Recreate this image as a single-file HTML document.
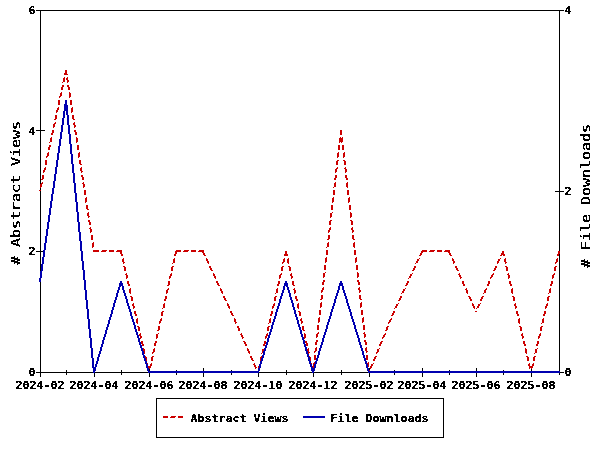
<!DOCTYPE html>
<html><head><meta charset="utf-8"><title>Statistics chart</title><style>
html,body{margin:0;padding:0;background:#fff;}
body{width:600px;height:450px;overflow:hidden;}
svg{display:block;}
.lb{font-family:"DejaVu Sans Mono","Liberation Mono",monospace;font-weight:bold;font-size:11px;fill:#000;}
.tt{font-family:"DejaVu Sans Mono","Liberation Mono",monospace;font-size:13px;fill:#000;}
</style></head><body>
<svg width="600" height="450" viewBox="0 0 600 450">
<defs>
<filter id="th2" color-interpolation-filters="sRGB"><feComponentTransfer><feFuncA type="discrete" tableValues="0 1 1 1"/></feComponentTransfer></filter>
<filter id="th" color-interpolation-filters="sRGB"><feComponentTransfer><feFuncA type="discrete" tableValues="0 1 1"/></feComponentTransfer></filter>
</defs>
<rect x="0" y="0" width="600" height="450" fill="#fff"/>
<g stroke="#000" stroke-width="1" shape-rendering="crispEdges" fill="none">
<rect x="40.5" y="10.5" width="519" height="362"/>
<line x1="40.5" y1="368" x2="40.5" y2="377"/>
<line x1="66.5" y1="370" x2="66.5" y2="375"/>
<line x1="94.5" y1="368" x2="94.5" y2="377"/>
<line x1="121.5" y1="370" x2="121.5" y2="375"/>
<line x1="149.5" y1="368" x2="149.5" y2="377"/>
<line x1="176.5" y1="370" x2="176.5" y2="375"/>
<line x1="203.5" y1="368" x2="203.5" y2="377"/>
<line x1="231.5" y1="370" x2="231.5" y2="375"/>
<line x1="258.5" y1="368" x2="258.5" y2="377"/>
<line x1="286.5" y1="370" x2="286.5" y2="375"/>
<line x1="313.5" y1="368" x2="313.5" y2="377"/>
<line x1="341.5" y1="370" x2="341.5" y2="375"/>
<line x1="369.5" y1="368" x2="369.5" y2="377"/>
<line x1="394.5" y1="370" x2="394.5" y2="375"/>
<line x1="422.5" y1="368" x2="422.5" y2="377"/>
<line x1="449.5" y1="370" x2="449.5" y2="375"/>
<line x1="476.5" y1="368" x2="476.5" y2="377"/>
<line x1="503.5" y1="370" x2="503.5" y2="375"/>
<line x1="531.5" y1="368" x2="531.5" y2="377"/>
<line x1="559.5" y1="370" x2="559.5" y2="375"/>
<line x1="36" y1="372.5" x2="45" y2="372.5"/>
<line x1="36" y1="251.5" x2="45" y2="251.5"/>
<line x1="36" y1="130.5" x2="45" y2="130.5"/>
<line x1="36" y1="10.5" x2="45" y2="10.5"/>
<line x1="555" y1="372.5" x2="564" y2="372.5"/>
<line x1="555" y1="191.5" x2="564" y2="191.5"/>
<line x1="555" y1="10.5" x2="564" y2="10.5"/>
</g>
<g shape-rendering="crispEdges" stroke="none">
<path fill="#cc0000" d="M65 70h2v3h-2zM64 73h3v1h-3zM64 74h4v1h-4zM64 77h1v1h-1zM67 77h1v1h-1zM63 78h2v4h-2zM66 78h2v2h-2zM67 80h2v2h-2zM62 82h1v1h-1zM67 82h1v1h-1zM62 85h2v2h-2zM67 85h2v2h-2zM61 87h2v3h-2zM68 87h2v3h-2zM61 92h1v1h-1zM69 92h1v1h-1zM60 93h2v3h-2zM69 93h2v4h-2zM59 96h2v1h-2zM59 97h1v1h-1zM69 97h1v1h-1zM58 100h2v5h-2zM70 100h2v5h-2zM58 107h1v1h-1zM72 107h1v1h-1zM57 108h2v2h-2zM71 108h2v4h-2zM56 110h2v2h-2zM56 112h1v1h-1zM71 112h1v1h-1zM55 115h2v4h-2zM72 115h2v4h-2zM54 119h2v1h-2zM73 119h2v1h-2zM55 122h1v1h-1zM74 122h1v1h-1zM54 123h2v1h-2zM73 123h2v2h-2zM53 124h2v3h-2zM74 125h2v2h-2zM53 127h1v1h-1zM74 127h1v1h-1zM52 130h2v3h-2zM74 130h2v2h-2zM340 130h2v5h-2zM75 132h2v3h-2zM51 133h2v2h-2zM51 137h1v1h-1zM76 137h1v1h-1zM340 137h1v1h-1zM342 137h1v1h-1zM50 138h2v4h-2zM76 138h2v4h-2zM339 138h4v4h-4zM49 142h1v1h-1zM76 142h1v1h-1zM339 142h1v1h-1zM341 142h1v1h-1zM49 145h2v2h-2zM77 145h2v5h-2zM338 145h2v5h-2zM342 145h2v5h-2zM48 147h2v3h-2zM48 152h1v1h-1zM79 152h1v1h-1zM338 152h1v1h-1zM344 152h1v1h-1zM47 153h2v3h-2zM78 153h2v4h-2zM337 153h2v4h-2zM343 153h2v4h-2zM46 156h2v1h-2zM46 157h1v1h-1zM78 157h1v1h-1zM337 157h1v1h-1zM343 157h1v1h-1zM45 160h2v5h-2zM79 160h2v4h-2zM337 160h2v1h-2zM343 160h2v1h-2zM336 161h2v4h-2zM344 161h2v4h-2zM80 164h2v1h-2zM45 167h1v1h-1zM81 167h1v1h-1zM337 167h1v1h-1zM345 167h1v1h-1zM44 168h2v2h-2zM80 168h2v3h-2zM336 168h2v1h-2zM344 168h2v1h-2zM335 169h2v3h-2zM345 169h2v3h-2zM43 170h2v2h-2zM81 171h2v1h-2zM43 172h1v1h-1zM81 172h1v1h-1zM335 172h1v1h-1zM345 172h1v1h-1zM42 175h2v4h-2zM81 175h2v2h-2zM335 175h2v3h-2zM345 175h2v3h-2zM82 177h2v3h-2zM334 178h2v2h-2zM346 178h2v2h-2zM41 179h2v1h-2zM42 182h1v1h-1zM83 182h1v1h-1zM335 182h1v1h-1zM347 182h1v1h-1zM41 183h2v1h-2zM82 183h2v1h-2zM334 183h2v4h-2zM346 183h2v4h-2zM40 184h2v3h-2zM83 184h2v3h-2zM40 187h1v1h-1zM83 187h1v1h-1zM333 187h1v1h-1zM347 187h1v1h-1zM39 190h2v1h-2zM84 190h2v5h-2zM333 190h2v5h-2zM347 190h2v5h-2zM86 197h1v1h-1zM333 197h1v1h-1zM349 197h1v1h-1zM85 198h2v4h-2zM332 198h2v4h-2zM348 198h2v4h-2zM85 202h1v1h-1zM332 202h1v1h-1zM348 202h1v1h-1zM86 205h2v4h-2zM331 205h2v5h-2zM349 205h2v5h-2zM87 209h2v1h-2zM88 212h1v1h-1zM332 212h1v1h-1zM350 212h1v1h-1zM87 213h2v3h-2zM330 213h2v4h-2zM350 213h2v4h-2zM88 216h2v1h-2zM88 217h1v1h-1zM330 217h1v1h-1zM350 217h1v1h-1zM88 220h2v2h-2zM330 220h2v1h-2zM350 220h2v1h-2zM329 221h2v4h-2zM351 221h2v4h-2zM89 222h2v3h-2zM90 227h1v1h-1zM330 227h1v1h-1zM352 227h1v1h-1zM89 228h2v1h-2zM329 228h2v2h-2zM351 228h2v2h-2zM90 229h2v3h-2zM328 230h2v2h-2zM352 230h2v2h-2zM90 232h1v1h-1zM328 232h1v1h-1zM352 232h1v1h-1zM91 235h2v5h-2zM328 235h2v4h-2zM352 235h2v4h-2zM327 239h2v1h-2zM353 239h2v1h-2zM93 242h1v1h-1zM328 242h1v1h-1zM354 242h1v1h-1zM92 243h2v4h-2zM327 243h2v4h-2zM353 243h2v4h-2zM92 247h1v1h-1zM326 247h1v1h-1zM354 247h1v1h-1zM93 250h6v2h-6zM102 250h5v1h-5zM109 250h5v2h-5zM117 250h5v1h-5zM176 250h5v1h-5zM184 250h5v1h-5zM191 250h5v2h-5zM199 250h5v1h-5zM326 250h2v5h-2zM354 250h2v5h-2zM422 250h5v1h-5zM430 250h5v1h-5zM437 250h5v2h-5zM445 250h5v1h-5zM101 251h5v1h-5zM116 251h6v1h-6zM175 251h6v1h-6zM183 251h5v1h-5zM198 251h6v1h-6zM285 251h2v3h-2zM421 251h6v1h-6zM429 251h5v1h-5zM444 251h6v1h-6zM502 251h2v2h-2zM558 251h2v3h-2zM120 252h2v2h-2zM175 252h2v2h-2zM202 252h2v1h-2zM421 252h2v1h-2zM448 252h2v1h-2zM203 253h2v2h-2zM420 253h2v2h-2zM449 253h2v2h-2zM501 253h3v1h-3zM121 254h2v2h-2zM174 254h2v2h-2zM284 254h4v2h-4zM501 254h4v1h-4zM557 254h2v2h-2zM204 255h2v1h-2zM419 255h2v1h-2zM450 255h2v1h-2zM500 255h2v1h-2zM503 255h2v1h-2zM326 257h1v1h-1zM356 257h1v1h-1zM123 258h1v1h-1zM174 258h1v1h-1zM206 258h1v1h-1zM284 258h1v1h-1zM288 258h1v1h-1zM325 258h2v4h-2zM355 258h2v4h-2zM419 258h1v1h-1zM452 258h1v1h-1zM500 258h1v1h-1zM505 258h1v1h-1zM557 258h1v1h-1zM122 259h2v3h-2zM173 259h2v4h-2zM206 259h2v2h-2zM283 259h2v3h-2zM287 259h2v4h-2zM417 259h2v2h-2zM452 259h2v2h-2zM498 259h2v2h-2zM504 259h2v3h-2zM556 259h2v3h-2zM207 261h2v2h-2zM416 261h2v2h-2zM453 261h2v2h-2zM497 261h2v2h-2zM123 262h2v1h-2zM282 262h2v1h-2zM325 262h1v1h-1zM355 262h1v1h-1zM505 262h2v1h-2zM555 262h2v1h-2zM123 263h1v1h-1zM172 263h1v1h-1zM208 263h1v1h-1zM282 263h1v1h-1zM288 263h1v1h-1zM415 263h1v1h-1zM453 263h1v1h-1zM497 263h1v1h-1zM505 263h1v1h-1zM555 263h1v1h-1zM324 265h2v5h-2zM356 265h2v5h-2zM123 266h2v1h-2zM172 266h2v1h-2zM209 266h2v2h-2zM282 266h2v1h-2zM288 266h2v1h-2zM414 266h2v2h-2zM455 266h2v2h-2zM495 266h2v2h-2zM505 266h2v1h-2zM555 266h2v1h-2zM124 267h2v4h-2zM171 267h2v4h-2zM281 267h2v4h-2zM289 267h2v4h-2zM506 267h2v4h-2zM554 267h2v4h-2zM210 268h2v2h-2zM413 268h2v2h-2zM456 268h2v2h-2zM494 268h2v2h-2zM211 270h2v1h-2zM412 270h2v1h-2zM457 270h2v1h-2zM493 270h2v1h-2zM325 272h1v1h-1zM357 272h1v1h-1zM126 273h1v1h-1zM171 273h1v1h-1zM213 273h1v1h-1zM281 273h1v1h-1zM291 273h1v1h-1zM323 273h2v4h-2zM357 273h2v4h-2zM412 273h1v1h-1zM459 273h1v1h-1zM493 273h1v1h-1zM508 273h1v1h-1zM554 273h1v1h-1zM125 274h2v1h-2zM170 274h2v2h-2zM213 274h2v2h-2zM280 274h2v1h-2zM290 274h2v2h-2zM410 274h2v2h-2zM458 274h2v1h-2zM492 274h2v1h-2zM507 274h2v1h-2zM553 274h2v1h-2zM126 275h2v3h-2zM279 275h2v3h-2zM459 275h2v2h-2zM491 275h2v2h-2zM508 275h2v3h-2zM552 275h2v3h-2zM169 276h2v2h-2zM214 276h2v2h-2zM291 276h2v2h-2zM409 276h2v2h-2zM323 277h1v1h-1zM357 277h1v1h-1zM460 277h2v1h-2zM490 277h2v1h-2zM126 278h1v1h-1zM169 278h1v1h-1zM215 278h1v1h-1zM279 278h1v1h-1zM291 278h1v1h-1zM408 278h1v1h-1zM460 278h1v1h-1zM490 278h1v1h-1zM508 278h1v1h-1zM552 278h1v1h-1zM323 280h2v2h-2zM357 280h2v2h-2zM127 281h2v3h-2zM168 281h2v4h-2zM216 281h2v2h-2zM278 281h2v3h-2zM292 281h2v4h-2zM407 281h2v2h-2zM462 281h2v3h-2zM488 281h2v3h-2zM509 281h2v3h-2zM551 281h2v3h-2zM322 282h2v3h-2zM358 282h2v3h-2zM217 283h2v2h-2zM406 283h2v2h-2zM128 284h2v2h-2zM277 284h2v2h-2zM463 284h2v2h-2zM487 284h2v2h-2zM510 284h2v2h-2zM550 284h2v2h-2zM167 285h2v1h-2zM218 285h2v1h-2zM293 285h2v1h-2zM405 285h2v1h-2zM323 287h1v1h-1zM359 287h1v1h-1zM130 288h1v1h-1zM168 288h1v1h-1zM220 288h1v1h-1zM277 288h1v1h-1zM294 288h1v1h-1zM322 288h2v2h-2zM358 288h2v2h-2zM405 288h1v1h-1zM466 288h1v1h-1zM486 288h1v1h-1zM512 288h1v1h-1zM550 288h1v1h-1zM129 289h2v4h-2zM167 289h2v1h-2zM220 289h2v2h-2zM276 289h2v4h-2zM293 289h2v1h-2zM403 289h2v2h-2zM465 289h2v1h-2zM485 289h2v1h-2zM511 289h2v4h-2zM549 289h2v4h-2zM166 290h2v3h-2zM294 290h2v3h-2zM321 290h2v2h-2zM359 290h2v2h-2zM466 290h2v3h-2zM484 290h2v3h-2zM221 291h2v2h-2zM402 291h2v2h-2zM321 292h1v1h-1zM359 292h1v1h-1zM130 293h1v1h-1zM166 293h1v1h-1zM222 293h1v1h-1zM275 293h1v1h-1zM294 293h1v1h-1zM401 293h1v1h-1zM467 293h1v1h-1zM483 293h1v1h-1zM512 293h1v1h-1zM548 293h1v1h-1zM321 295h2v4h-2zM359 295h2v4h-2zM130 296h2v1h-2zM165 296h2v3h-2zM223 296h2v2h-2zM275 296h2v1h-2zM295 296h2v3h-2zM400 296h2v2h-2zM468 296h2v1h-2zM482 296h2v1h-2zM512 296h2v1h-2zM548 296h2v1h-2zM131 297h2v4h-2zM274 297h2v4h-2zM469 297h2v2h-2zM481 297h2v2h-2zM513 297h2v4h-2zM547 297h2v4h-2zM224 298h2v2h-2zM399 298h2v2h-2zM164 299h2v2h-2zM296 299h2v2h-2zM320 299h2v1h-2zM360 299h2v1h-2zM470 299h2v2h-2zM480 299h2v2h-2zM225 300h2v1h-2zM398 300h2v1h-2zM321 302h1v1h-1zM361 302h1v1h-1zM133 303h1v1h-1zM164 303h1v1h-1zM227 303h1v1h-1zM274 303h1v1h-1zM298 303h1v1h-1zM320 303h2v4h-2zM360 303h2v4h-2zM398 303h1v1h-1zM472 303h1v1h-1zM480 303h1v1h-1zM515 303h1v1h-1zM547 303h1v1h-1zM132 304h2v2h-2zM163 304h2v4h-2zM227 304h2v2h-2zM273 304h2v2h-2zM297 304h2v4h-2zM396 304h2v2h-2zM472 304h2v2h-2zM478 304h2v2h-2zM514 304h2v2h-2zM546 304h2v2h-2zM133 306h2v2h-2zM228 306h2v2h-2zM272 306h2v2h-2zM395 306h2v2h-2zM473 306h2v2h-2zM477 306h2v2h-2zM515 306h2v2h-2zM545 306h2v2h-2zM320 307h1v1h-1zM360 307h1v1h-1zM133 308h1v1h-1zM162 308h1v1h-1zM229 308h1v1h-1zM272 308h1v1h-1zM298 308h1v1h-1zM394 308h1v1h-1zM474 308h1v1h-1zM476 308h1v1h-1zM515 308h1v1h-1zM545 308h1v1h-1zM319 310h2v5h-2zM361 310h2v5h-2zM134 311h2v3h-2zM162 311h2v1h-2zM230 311h2v2h-2zM271 311h2v3h-2zM298 311h2v1h-2zM393 311h2v2h-2zM475 311h2v1h-2zM516 311h2v3h-2zM544 311h2v3h-2zM161 312h2v4h-2zM299 312h2v4h-2zM231 313h2v2h-2zM392 313h2v2h-2zM135 314h2v2h-2zM270 314h2v2h-2zM517 314h2v2h-2zM543 314h2v2h-2zM232 315h2v1h-2zM391 315h2v1h-2zM319 317h1v1h-1zM363 317h1v1h-1zM137 318h1v1h-1zM161 318h1v1h-1zM234 318h1v1h-1zM270 318h1v1h-1zM301 318h1v1h-1zM318 318h2v4h-2zM362 318h2v4h-2zM391 318h1v1h-1zM519 318h1v1h-1zM543 318h1v1h-1zM136 319h2v4h-2zM160 319h2v2h-2zM234 319h2v3h-2zM269 319h2v4h-2zM300 319h2v2h-2zM390 319h2v1h-2zM518 319h2v4h-2zM542 319h2v4h-2zM389 320h2v2h-2zM159 321h2v2h-2zM301 321h2v2h-2zM235 322h2v1h-2zM318 322h1v1h-1zM362 322h1v1h-1zM388 322h2v1h-2zM137 323h1v1h-1zM159 323h1v1h-1zM235 323h1v1h-1zM268 323h1v1h-1zM301 323h1v1h-1zM388 323h1v1h-1zM519 323h1v1h-1zM541 323h1v1h-1zM317 325h2v5h-2zM363 325h2v5h-2zM137 326h2v1h-2zM158 326h2v4h-2zM237 326h2v2h-2zM268 326h2v1h-2zM302 326h2v4h-2zM387 326h2v1h-2zM519 326h2v1h-2zM541 326h2v1h-2zM138 327h2v4h-2zM267 327h2v4h-2zM386 327h2v3h-2zM520 327h2v4h-2zM540 327h2v4h-2zM238 328h2v3h-2zM157 330h2v1h-2zM303 330h2v1h-2zM385 330h2v1h-2zM318 332h1v1h-1zM364 332h1v1h-1zM140 333h1v1h-1zM158 333h1v1h-1zM241 333h1v1h-1zM267 333h1v1h-1zM304 333h1v1h-1zM317 333h2v1h-2zM363 333h2v1h-2zM385 333h1v1h-1zM522 333h1v1h-1zM540 333h1v1h-1zM139 334h2v2h-2zM156 334h2v4h-2zM240 334h2v1h-2zM266 334h2v2h-2zM304 334h2v4h-2zM316 334h2v3h-2zM364 334h2v3h-2zM384 334h2v1h-2zM521 334h2v2h-2zM539 334h2v2h-2zM241 335h2v2h-2zM383 335h2v2h-2zM140 336h2v2h-2zM265 336h2v2h-2zM522 336h2v2h-2zM538 336h2v2h-2zM242 337h2v1h-2zM316 337h1v1h-1zM364 337h1v1h-1zM382 337h2v1h-2zM140 338h1v1h-1zM156 338h1v1h-1zM242 338h1v1h-1zM265 338h1v1h-1zM304 338h1v1h-1zM382 338h1v1h-1zM522 338h1v1h-1zM538 338h1v1h-1zM316 340h2v2h-2zM364 340h2v2h-2zM141 341h2v3h-2zM155 341h2v2h-2zM243 341h2v1h-2zM264 341h2v3h-2zM305 341h2v2h-2zM381 341h2v1h-2zM523 341h2v3h-2zM537 341h2v3h-2zM244 342h2v2h-2zM315 342h2v3h-2zM365 342h2v3h-2zM380 342h2v2h-2zM154 343h2v3h-2zM306 343h2v3h-2zM142 344h2v2h-2zM245 344h2v2h-2zM263 344h2v2h-2zM379 344h2v2h-2zM524 344h2v2h-2zM536 344h2v2h-2zM316 347h1v1h-1zM366 347h1v1h-1zM143 348h1v1h-1zM154 348h1v1h-1zM247 348h1v1h-1zM264 348h1v1h-1zM308 348h1v1h-1zM315 348h2v3h-2zM365 348h2v3h-2zM379 348h1v1h-1zM525 348h1v1h-1zM537 348h1v1h-1zM143 349h2v4h-2zM153 349h2v3h-2zM247 349h2v2h-2zM262 349h2v4h-2zM307 349h2v3h-2zM377 349h2v3h-2zM525 349h2v4h-2zM535 349h2v4h-2zM248 351h2v2h-2zM314 351h2v1h-2zM366 351h2v1h-2zM152 352h2v1h-2zM308 352h2v1h-2zM314 352h1v1h-1zM366 352h1v1h-1zM376 352h2v1h-2zM144 353h1v1h-1zM152 353h1v1h-1zM249 353h1v1h-1zM261 353h1v1h-1zM308 353h1v1h-1zM376 353h1v1h-1zM526 353h1v1h-1zM534 353h1v1h-1zM314 355h2v5h-2zM366 355h2v5h-2zM144 356h2v1h-2zM152 356h2v1h-2zM250 356h2v2h-2zM261 356h2v1h-2zM308 356h2v1h-2zM375 356h2v1h-2zM526 356h2v1h-2zM534 356h2v1h-2zM145 357h2v4h-2zM151 357h2v4h-2zM260 357h2v4h-2zM309 357h2v4h-2zM374 357h2v2h-2zM527 357h2v4h-2zM533 357h2v4h-2zM251 358h2v2h-2zM373 359h2v2h-2zM252 360h2v1h-2zM314 362h1v1h-1zM368 362h1v1h-1zM147 363h1v1h-1zM151 363h1v1h-1zM254 363h1v1h-1zM260 363h1v1h-1zM311 363h1v1h-1zM313 363h2v3h-2zM367 363h2v4h-2zM373 363h1v1h-1zM529 363h1v1h-1zM533 363h1v1h-1zM146 364h2v2h-2zM150 364h2v2h-2zM253 364h2v1h-2zM259 364h2v2h-2zM310 364h2v2h-2zM371 364h2v2h-2zM528 364h2v2h-2zM532 364h2v2h-2zM254 365h2v2h-2zM147 366h4v2h-4zM258 366h2v2h-2zM311 366h4v1h-4zM370 366h2v2h-2zM529 366h4v2h-4zM255 367h2v1h-2zM311 367h3v1h-3zM367 367h1v1h-1zM147 368h1v1h-1zM149 368h1v1h-1zM255 368h1v1h-1zM258 368h1v1h-1zM311 368h1v1h-1zM370 368h1v1h-1zM529 368h1v1h-1zM531 368h1v1h-1zM312 370h2v3h-2zM368 370h2v3h-2zM148 371h2v2h-2zM257 371h2v2h-2zM530 371h2v2h-2z"/>
<path fill="#0000b0" d="M65 100h2v4h-2zM64 104h3v1h-3zM64 105h4v6h-4zM63 111h2v7h-2zM66 111h2v4h-2zM67 115h2v10h-2zM62 118h2v7h-2zM61 125h2v7h-2zM68 125h2v9h-2zM60 132h2v7h-2zM69 134h2v10h-2zM59 139h2v7h-2zM70 144h2v10h-2zM58 146h2v7h-2zM57 153h2v7h-2zM71 154h2v10h-2zM56 160h2v7h-2zM72 164h2v9h-2zM55 167h2v7h-2zM73 173h2v10h-2zM54 174h2v7h-2zM53 181h2v7h-2zM74 183h2v10h-2zM52 188h2v6h-2zM75 193h2v9h-2zM51 194h2v7h-2zM50 201h2v7h-2zM76 202h2v10h-2zM49 208h2v7h-2zM77 212h2v10h-2zM48 215h2v7h-2zM47 222h2v7h-2zM78 222h2v10h-2zM46 229h2v7h-2zM79 232h2v9h-2zM45 236h2v7h-2zM80 241h2v10h-2zM44 243h2v7h-2zM43 250h2v7h-2zM81 251h2v10h-2zM42 257h2v7h-2zM82 261h2v9h-2zM41 264h2v7h-2zM83 270h2v10h-2zM40 271h2v7h-2zM39 278h2v4h-2zM84 280h2v10h-2zM120 281h2v2h-2zM285 281h2v2h-2zM340 281h2v2h-2zM119 283h4v3h-4zM284 283h4v3h-4zM339 283h4v3h-4zM119 286h2v1h-2zM122 286h2v4h-2zM283 286h2v4h-2zM286 286h2v1h-2zM338 286h2v4h-2zM342 286h2v4h-2zM118 287h2v3h-2zM287 287h2v3h-2zM85 290h2v10h-2zM117 290h2v3h-2zM123 290h2v3h-2zM282 290h2v3h-2zM288 290h2v3h-2zM337 290h2v3h-2zM343 290h2v3h-2zM116 293h2v4h-2zM124 293h2v3h-2zM281 293h2v3h-2zM289 293h2v4h-2zM336 293h2v3h-2zM344 293h2v3h-2zM125 296h2v3h-2zM280 296h2v3h-2zM335 296h2v3h-2zM345 296h2v3h-2zM115 297h2v3h-2zM290 297h2v3h-2zM126 299h2v4h-2zM279 299h2v4h-2zM334 299h2v4h-2zM346 299h2v4h-2zM86 300h2v9h-2zM114 300h2v3h-2zM291 300h2v3h-2zM113 303h2v4h-2zM127 303h2v3h-2zM278 303h2v3h-2zM292 303h2v4h-2zM333 303h2v3h-2zM347 303h2v3h-2zM128 306h2v3h-2zM277 306h2v3h-2zM332 306h2v3h-2zM348 306h2v3h-2zM112 307h2v3h-2zM293 307h2v3h-2zM87 309h2v10h-2zM129 309h2v3h-2zM276 309h2v3h-2zM331 309h2v3h-2zM349 309h2v3h-2zM111 310h2v4h-2zM294 310h2v4h-2zM130 312h2v4h-2zM275 312h2v4h-2zM330 312h2v4h-2zM350 312h2v4h-2zM110 314h2v3h-2zM295 314h2v3h-2zM131 316h2v3h-2zM274 316h2v3h-2zM329 316h2v3h-2zM351 316h2v3h-2zM109 317h2v3h-2zM296 317h2v3h-2zM88 319h2v10h-2zM132 319h2v3h-2zM273 319h2v3h-2zM328 319h2v3h-2zM352 319h2v3h-2zM108 320h2v4h-2zM297 320h2v4h-2zM133 322h2v3h-2zM272 322h2v3h-2zM327 322h2v3h-2zM353 322h2v3h-2zM107 324h2v3h-2zM298 324h2v3h-2zM134 325h2v4h-2zM271 325h2v4h-2zM326 325h2v4h-2zM354 325h2v4h-2zM106 327h2v3h-2zM299 327h2v3h-2zM89 329h2v9h-2zM135 329h2v3h-2zM270 329h2v3h-2zM325 329h2v3h-2zM355 329h2v3h-2zM105 330h2v4h-2zM300 330h2v4h-2zM136 332h2v3h-2zM269 332h2v3h-2zM324 332h2v3h-2zM356 332h2v3h-2zM104 334h2v3h-2zM301 334h2v3h-2zM137 335h2v3h-2zM268 335h2v3h-2zM323 335h2v3h-2zM357 335h2v3h-2zM103 337h2v3h-2zM302 337h2v3h-2zM90 338h2v10h-2zM138 338h2v4h-2zM267 338h2v4h-2zM322 338h2v4h-2zM358 338h2v4h-2zM102 340h2v4h-2zM303 340h2v4h-2zM139 342h2v3h-2zM266 342h2v3h-2zM321 342h2v3h-2zM359 342h2v3h-2zM101 344h2v3h-2zM304 344h2v3h-2zM140 345h2v3h-2zM265 345h2v3h-2zM320 345h2v3h-2zM360 345h2v3h-2zM100 347h2v4h-2zM305 347h2v4h-2zM91 348h2v10h-2zM141 348h2v3h-2zM264 348h2v3h-2zM319 348h2v3h-2zM361 348h2v3h-2zM99 351h2v3h-2zM142 351h2v4h-2zM263 351h2v4h-2zM306 351h2v3h-2zM318 351h2v4h-2zM362 351h2v4h-2zM98 354h2v3h-2zM307 354h2v3h-2zM143 355h2v3h-2zM262 355h2v3h-2zM317 355h2v3h-2zM363 355h2v3h-2zM97 357h2v4h-2zM308 357h2v4h-2zM92 358h2v9h-2zM144 358h2v3h-2zM261 358h2v3h-2zM316 358h2v3h-2zM364 358h2v3h-2zM96 361h2v3h-2zM145 361h2v3h-2zM260 361h2v3h-2zM309 361h2v3h-2zM315 361h2v3h-2zM365 361h2v3h-2zM95 364h2v3h-2zM146 364h2v4h-2zM259 364h2v4h-2zM310 364h2v3h-2zM314 364h2v4h-2zM366 364h2v4h-2zM92 367h4v1h-4zM311 367h2v1h-2zM93 368h3v3h-3zM147 368h2v3h-2zM258 368h2v3h-2zM311 368h4v3h-4zM367 368h2v3h-2zM93 371h2v2h-2zM148 371h111v2h-111zM312 371h2v2h-2zM368 371h192v2h-192z"/>
</g>
<g filter="url(#th)">
<g class="lb">
<text x="15.5" y="389" textLength="49" lengthAdjust="spacingAndGlyphs">2024-02</text>
<text x="69.5" y="389" textLength="49" lengthAdjust="spacingAndGlyphs">2024-04</text>
<text x="124.5" y="389" textLength="49" lengthAdjust="spacingAndGlyphs">2024-06</text>
<text x="178.5" y="389" textLength="49" lengthAdjust="spacingAndGlyphs">2024-08</text>
<text x="233.5" y="389" textLength="49" lengthAdjust="spacingAndGlyphs">2024-10</text>
<text x="288.5" y="389" textLength="49" lengthAdjust="spacingAndGlyphs">2024-12</text>
<text x="344.5" y="389" textLength="49" lengthAdjust="spacingAndGlyphs">2025-02</text>
<text x="397.5" y="389" textLength="49" lengthAdjust="spacingAndGlyphs">2025-04</text>
<text x="451.5" y="389" textLength="49" lengthAdjust="spacingAndGlyphs">2025-06</text>
<text x="506.5" y="389" textLength="49" lengthAdjust="spacingAndGlyphs">2025-08</text>
<text x="28.5" y="376" textLength="7" lengthAdjust="spacingAndGlyphs">0</text>
<text x="28.5" y="255" textLength="7" lengthAdjust="spacingAndGlyphs">2</text>
<text x="28.5" y="135" textLength="7" lengthAdjust="spacingAndGlyphs">4</text>
<text x="28.5" y="14" textLength="7" lengthAdjust="spacingAndGlyphs">6</text>
<text x="564.5" y="376" textLength="7" lengthAdjust="spacingAndGlyphs">0</text>
<text x="564.5" y="195" textLength="7" lengthAdjust="spacingAndGlyphs">2</text>
<text x="564.5" y="14" textLength="7" lengthAdjust="spacingAndGlyphs">4</text>
<text x="190.5" y="422" textLength="98" lengthAdjust="spacingAndGlyphs">Abstract Views</text>
<text x="330.5" y="422" textLength="98" lengthAdjust="spacingAndGlyphs">File Downloads</text>
</g>
</g>
<text class="tt" filter="url(#th2)" transform="translate(20,265) rotate(-90)" textLength="144" lengthAdjust="spacingAndGlyphs"># Abstract Views</text>
<text class="tt" filter="url(#th2)" transform="translate(590,268) rotate(-90)" textLength="144" lengthAdjust="spacingAndGlyphs"># File Downloads</text>
<g shape-rendering="crispEdges">
<rect x="156.5" y="398.5" width="287" height="39" fill="none" stroke="#000"/>
<path fill="#cc0000" d="M163 416h5v2h-5zM171 416h5v1h-5zM178 416h5v2h-5zM170 417h5v1h-5z"/>
<path fill="#0000b0" d="M303 416h22v2h-22z"/>
</g>
</svg>
</body></html>
